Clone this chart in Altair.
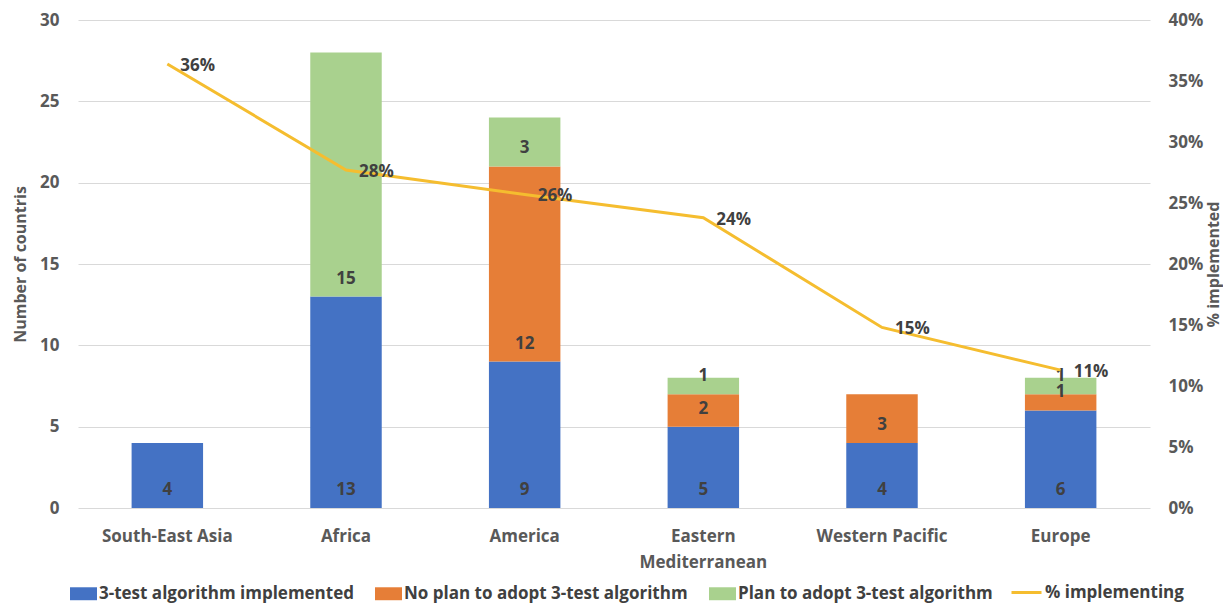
import altair as alt
import pandas as pd

regions = ["South-East Asia", "Africa", "America", "Eastern Mediterranean", "Western Pacific", "Europe"]
implemented = [4, 13, 9, 5, 4, 6]
no_plan = [0, 0, 12, 2, 3, 1]
plan = [0, 15, 3, 1, 0, 1]
pct_implementing = [0.364, 0.277, 0.257, 0.238, 0.148, 0.113]

series = ["3-test algorithm implemented", "No plan to adopt 3-test algorithm", "Plan to adopt 3-test algorithm"]
series_colors = ["#4472C4", "#E67E37", "#A9D18E"]
line_name = "% implementing"
line_color = "#F5BD2F"

FONT = "Open Sans"
LABEL = "#595959"
DARK = "#404040"

rows = []
for i, r in enumerate(regions):
    base = 0
    for k, vals in enumerate([implemented, no_plan, plan]):
        v = vals[i]
        if v > 0:
            rows.append({"region": r, "series": series[k], "value": v, "base": base, "order": k})
        base += v
bars_df = pd.DataFrame(rows)
line_df = pd.DataFrame({"region": regions, "pct": pct_implementing, "name": line_name})

x_enc = alt.X(
    "region:N", sort=regions,
    scale=alt.Scale(paddingInner=0.6, paddingOuter=0.3),
    axis=alt.Axis(title=None, ticks=False, domain=False, labelAngle=0, labelFont=FONT,
                  labelFontSize=17, labelFontWeight="bold", labelColor=LABEL, labelPadding=20,
                  labelLineHeight=26,
                  labelExpr="datum.label == 'Eastern Mediterranean' ? ['Eastern', 'Mediterranean'] : datum.label"),
)

bars = alt.Chart(bars_df).mark_bar().encode(
    x=x_enc,
    y=alt.Y("value:Q", stack="zero", scale=alt.Scale(domain=[0, 30]),
            axis=alt.Axis(title="Number of countris", values=[0, 5, 10, 15, 20, 25, 30], ticks=False,
                          domain=False, gridColor="#D9D9D9", labelFont=FONT, labelFontSize=17,
                          labelFontWeight="bold", labelColor=LABEL, labelPadding=19,
                          titleFont=FONT, titleFontSize=16, titleFontWeight="bold", titleColor=LABEL,
                          titlePadding=11)),
    color=alt.Color("series:N", scale=alt.Scale(domain=series, range=series_colors),
                    legend=alt.Legend(orient="none", legendX=-8, legendY=560, direction="horizontal",
                                      title=None, padding=0, labelLimit=0,
                                      symbolType="M-1,-0.48L1,-0.48L1,0.48L-1,0.48Z", symbolSize=729,
                                      symbolStrokeWidth=0, symbolOpacity=1,
                                      labelFont=FONT, labelFontSize=17, labelFontWeight="bold",
                                      labelColor=DARK, labelOffset=2, columnPadding=21)),
    order=alt.Order("order:Q"),
)

bar_text = alt.Chart(bars_df).mark_text(font=FONT, fontSize=17, fontWeight="bold", color=DARK,
                                        baseline="middle", dy=-18).encode(
    x=alt.X("region:N", sort=regions),
    y=alt.Y("base:Q", stack=None, scale=alt.Scale(domain=[0, 30]), axis=None),
    text=alt.Text("value:Q"),
)

line = alt.Chart(line_df).mark_line(strokeWidth=3).encode(
    x=alt.X("region:N", sort=regions),
    y=alt.Y("pct:Q", scale=alt.Scale(domain=[0, 0.4]),
            axis=alt.Axis(orient="right", title="% implemented", format=".0%",
                          values=[0, 0.05, 0.1, 0.15, 0.2, 0.25, 0.3, 0.35, 0.4], grid=False,
                          ticks=False, domain=False, labelFont=FONT, labelFontSize=17,
                          labelFontWeight="bold", labelColor=LABEL, labelPadding=18,
                          titleFont=FONT, titleFontSize=16, titleFontWeight="bold", titleColor=LABEL,
                          titleAngle=270, titlePadding=19)),
    color=alt.Color("name:N", scale=alt.Scale(domain=[line_name], range=[line_color]),
                    legend=alt.Legend(orient="none", legendX=932, legendY=556, direction="horizontal",
                                      title=None, padding=0, labelLimit=0, symbolType="stroke",
                                      symbolSize=900, symbolStrokeWidth=3,
                                      labelFont=FONT, labelFontSize=17, labelFontWeight="bold",
                                      labelColor=DARK, labelOffset=2)),
)

line_text = alt.Chart(line_df).mark_text(font=FONT, fontSize=17, fontWeight="bold", color=DARK,
                                         align="left", baseline="middle", dx=13, dy=2).encode(
    x=alt.X("region:N", sort=regions),
    y=alt.Y("pct:Q", scale=alt.Scale(domain=[0, 0.4]), axis=None),
    text=alt.Text("pct:Q", format=".0%"),
)

chart = alt.layer(bars, bar_text, line, line_text).resolve_scale(
    y="independent", color="independent"
).properties(
    width=1072, height=488,
    padding={"left": 70, "top": 12, "right": 73, "bottom": 97},
    autosize=alt.AutoSizeParams(type="none"),
    background="white",
).configure_view(stroke=None)

chart.save("out.html", embed_options={"renderer": "svg", "actions": False})
